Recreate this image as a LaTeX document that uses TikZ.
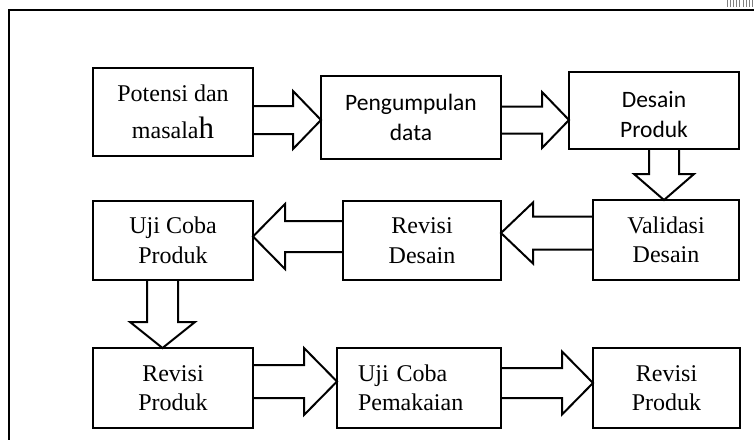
\documentclass[tikz,border=0pt]{standalone}
\usepackage{fontspec}
\setmainfont{Liberation Serif}
\newfontfamily\calfont{Carlito}
\usetikzlibrary{calc}

\tikzset{
  box/.style={draw, line width=2pt, rectangle, inner sep=0pt, outer sep=0pt,
    align=center, font=\fontsize{24}{29.5}\selectfont},
  calbox/.style={box, font=\calfont\fontsize{23.5}{30.5}\selectfont},
  blockarr/.style={draw, line width=2pt, line join=miter},
  frameline/.style={draw, line width=2.4pt},
  hatch/.style={draw, gray, line width=0.8pt},
}

% #1 options, #2 name, #3 x1, #4 y1, #5 x2, #6 y2 (image pixels, y down), #7 text
\newcommand\mkbox[7][]{%
  \pgfmathsetmacro\bxw{#5-#3}%
  \pgfmathsetmacro\bxh{#6-#4}%
  \node[box, minimum width=\bxw pt, minimum height=\bxh pt, #1] (#2)
    at ({(#3+#5)/2*1pt},{-(#4+#6)/2*1pt}) {#7};%
}
% horizontal block arrow: #1 start anchor, #2 tip anchor, #3 centre y, #4 shaft half, #5 head half, #6 head length
\newcommand\harr[6]{%
  \draw[blockarr] let \p1=(#1), \p2=(#2), \n1={sign(\x2-\x1)*(#6)} in
    ({\x1},{(-(#3)+(#4))*1pt}) -- ({\x2-\n1*1pt},{(-(#3)+(#4))*1pt})
    -- ({\x2-\n1*1pt},{(-(#3)+(#5))*1pt}) -- ({\x2},{-(#3)*1pt})
    -- ({\x2-\n1*1pt},{(-(#3)-(#5))*1pt}) -- ({\x2-\n1*1pt},{(-(#3)-(#4))*1pt})
    -- ({\x1},{(-(#3)-(#4))*1pt});%
}
% vertical block arrow: #1 start anchor, #2 tip anchor, #3 centre x, #4 shaft half, #5 head half, #6 head length
\newcommand\varr[6]{%
  \draw[blockarr] let \p1=(#1), \p2=(#2), \n1={sign(\y2-\y1)*(#6)} in
    ({((#3)-(#4))*1pt},{\y1}) -- ({((#3)-(#4))*1pt},{\y2-\n1*1pt})
    -- ({((#3)-(#5))*1pt},{\y2-\n1*1pt}) -- ({(#3)*1pt},{\y2})
    -- ({((#3)+(#5))*1pt},{\y2-\n1*1pt}) -- ({((#3)+(#4))*1pt},{\y2-\n1*1pt})
    -- ({((#3)+(#4))*1pt},{\y1});%
}

\begin{document}
\begin{tikzpicture}[x=1pt,y=1pt]
\useasboundingbox (0,0) rectangle (754,-439);

% outer frame (cut by the page edges)
\draw[frameline] (9,-445) -- (9,-10) -- (760,-10);
\foreach \hx in {727,730.2,...,753}
  \draw[hatch] (\hx,0) -- (\hx,-7);

% boxes
\mkbox{b1}{93}{68}{253}{156}{Potensi dan\\[8pt]masala{\fontsize{31}{31}\selectfont h}}
\mkbox[calbox]{b2}{321}{76}{501}{159}{Pengumpulan\\data}
\mkbox[calbox]{b3}{569}{72}{739}{149}{\rule{0pt}{24pt}Desain\\Produk}
\mkbox{val}{593}{200}{739}{280}{Validasi\\Desain}
\mkbox{rd}{343}{201}{501}{280}{Revisi\\Desain}
\mkbox{ucp}{93}{201}{253}{280}{Uji Coba\\Produk}
\mkbox{rp}{93}{348}{253}{428}{Revisi\\Produk}
\mkbox[text width=122pt, align=left]{ucpm}{337}{348}{501}{428}{Uji Coba\\Pemakaian}
\mkbox{rpb}{593}{348}{740}{428}{Revisi\\Produk}

% block arrows
\harr{b1.east}{b2.west |- 0,-120}{120}{14}{29}{28}
\harr{b2.east}{b3.west |- 0,-120}{120}{13.5}{28}{27}
\varr{b3.south}{val.north}{664}{15}{30}{26}
\harr{val.west}{rd.east |- 0,-233}{233}{16.5}{30.5}{32}
\harr{rd.west}{ucp.east |- 0,-236.5}{236.5}{15.5}{32.5}{32}
\varr{ucp.south}{rp.north}{162.5}{15.5}{32.5}{26}
\harr{rp.east}{ucpm.west |- 0,-381.5}{381.5}{16.5}{33.5}{33}
\harr{ucpm.east}{rpb.west |- 0,-383}{383}{15}{31.5}{31}
\end{tikzpicture}
\end{document}
